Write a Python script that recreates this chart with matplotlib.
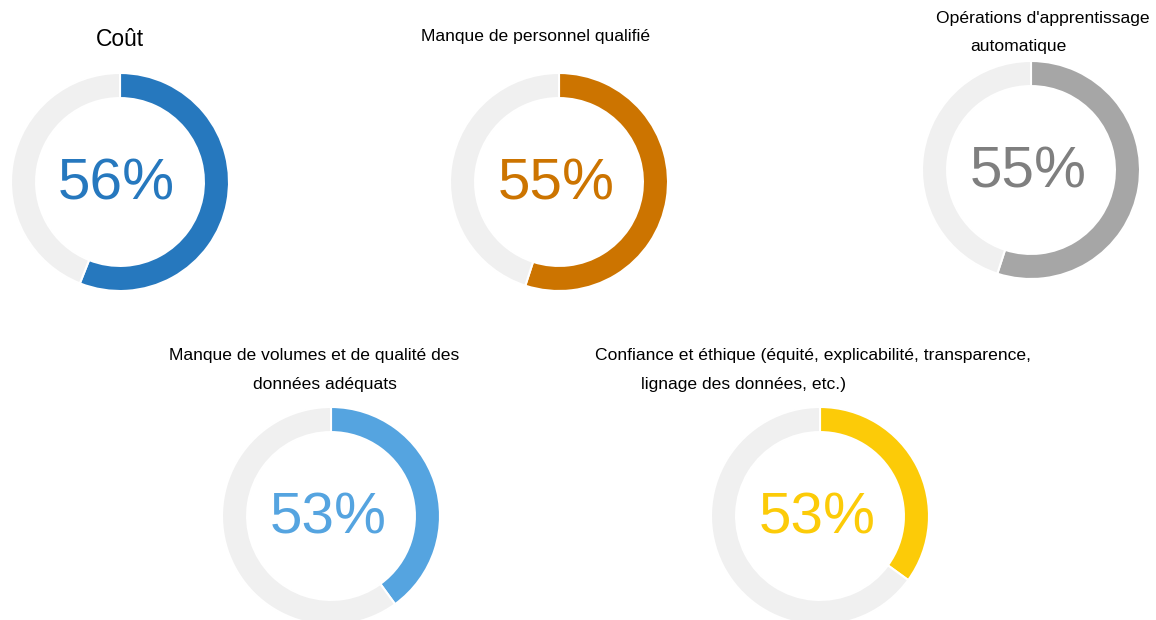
import matplotlib.pyplot as plt

plt.rcParams["font.family"] = ["Liberation Sans", "DejaVu Sans"]

# values shown in the centre of each ring
labels_pct = [56, 55, 55, 53, 53]
# share of the ring that is coloured, as drawn
arc_share = [56, 55, 55, 40, 35]
titles = [
    ["Coût"],
    ["Manque de personnel qualifié"],
    ["Opérations d'apprentissage", "automatique"],
    ["Manque de volumes et de qualité des", "données adéquats"],
    ["Confiance et éthique (équité, explicabilité, transparence,", "lignage des données, etc.)"],
]
colors = ["#2678BE", "#CC7400", "#A6A6A6", "#55A4E0", "#FCCB08"]
text_colors = ["#2678BE", "#CC7400", "#7F7F7F", "#55A4E0", "#FCCB08"]

W, H = 1156, 620
fig = plt.figure(figsize=(W / 100, H / 100), dpi=100)

# ring centres / radius in pixels (top-left origin)
centres = [(120, 182), (559, 182), (1031, 170), (331, 516), (820, 516)]
radius = 109
# title line centres in pixels
title_pos = [
    [(120, 40)],
    [(536, 36)],
    [(1043, 18), (1018, 46)],
    [(314, 355), (325, 385)],
    [(813, 355), (744, 384)],
]
title_size = [16.5, 12.6, 12.6, 12.6, 12.6]

for i in range(5):
    cx, cy = centres[i]
    ax = fig.add_axes([(cx - radius) / W, (H - cy - radius) / H,
                       2 * radius / W, 2 * radius / H])
    ax.pie([arc_share[i], 100 - arc_share[i]],
           colors=[colors[i], "#F0F0F0"],
           startangle=90, counterclock=False, radius=1,
           wedgeprops=dict(width=0.23, edgecolor="white", linewidth=1.5))
    ax.set_xlim(-1, 1)
    ax.set_ylim(-1, 1)
    ax.set_aspect("equal")
    ax.axis("off")
    ax.text(-0.03, -0.02, f"{labels_pct[i]}%", ha="center", va="center",
            fontsize=42, color=text_colors[i])
    for line, (tx, ty) in zip(titles[i], title_pos[i]):
        fig.text(tx / W, 1 - ty / H, line, ha="center", va="center",
                 fontsize=title_size[i], color="black")

fig.savefig("out.png", dpi=100)
